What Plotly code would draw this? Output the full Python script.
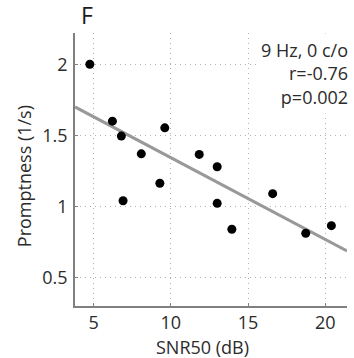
import plotly.graph_objects as go

# Data
snr50 = [4.76, 6.22, 6.80, 6.91, 8.09, 9.29, 9.61, 11.84, 13.0, 13.0, 13.95, 16.59, 18.73, 20.39]
promptness = [2.00, 1.60, 1.495, 1.04, 1.37, 1.163, 1.553, 1.366, 1.279, 1.022, 0.84, 1.09, 0.812, 0.865]
fit_x = [3.8, 21.4]
fit_y = [1.70, 0.688]
x_ticks = [5, 10, 15, 20]
y_ticks = [0.5, 1, 1.5, 2]
y_tick_labels = ["0.5", "1", "1.5", "2"]
stats_lines = ["9 Hz, 0 c/o", "r=-0.76", "p=0.002"]
panel_label = "F"

FONT = "Open Sans"
TXT = "#2b2b2b"
AX = "#808080"
GRID = "#b0b0b0"

fig = go.Figure()
fig.add_trace(go.Scatter(x=fit_x, y=fit_y, mode="lines",
                         line=dict(color="#999999", width=3), hoverinfo="skip", showlegend=False))
fig.add_trace(go.Scatter(x=snr50, y=promptness, mode="markers",
                         marker=dict(color="black", size=9), showlegend=False))

fig.update_layout(
    width=354, height=358,
    margin=dict(l=75, r=7, t=33, b=52),
    paper_bgcolor="white", plot_bgcolor="white",
    font=dict(family=FONT, size=18, color=TXT),
    xaxis=dict(range=[3.8, 21.4], tickvals=x_ticks, ticktext=[str(v) for v in x_ticks],
               showline=True, linecolor=AX, linewidth=1.5, mirror=False,
               showgrid=True, gridcolor=GRID, griddash="1px,4px", gridwidth=1,
               ticks="inside", ticklen=3, tickcolor=AX, zeroline=False,
               tickfont=dict(family=FONT, size=18, color=TXT)),
    yaxis=dict(range=[0.3, 2.22], tickvals=y_ticks, ticktext=y_tick_labels,
               showline=True, linecolor=AX, linewidth=1.5, mirror=False,
               showgrid=True, gridcolor=GRID, griddash="1px,4px", gridwidth=1,
               ticks="inside", ticklen=3, tickcolor=AX, zeroline=False,
               ticklabelstandoff=2,
               tickfont=dict(family=FONT, size=18, color=TXT)),
)

fig.add_annotation(text="<br>".join(stats_lines), xref="paper", yref="paper",
                   x=1.0235, y=1.0, xanchor="right", yanchor="top", align="right",
                   showarrow=False, bgcolor="white", borderpad=4,
                   font=dict(family=FONT, size=18, color=TXT))
fig.add_annotation(text=panel_label, xref="paper", yref="paper",
                   x=0.015, y=1.0, xanchor="left", yanchor="bottom",
                   showarrow=False, font=dict(family=FONT, size=23, color="#1a1a1a"))
fig.add_annotation(text="Promptness (1/s)", xref="paper", yref="paper",
                   x=-0.187, y=0.476, textangle=-90, xanchor="center", yanchor="middle",
                   showarrow=False, font=dict(family=FONT, size=18, color=TXT))
fig.add_annotation(text="SNR50 (dB)", xref="paper", yref="paper",
                   x=0.467, y=-0.1, xanchor="center", yanchor="top",
                   showarrow=False, font=dict(family=FONT, size=18, color=TXT))

fig.write_html("out.html")
